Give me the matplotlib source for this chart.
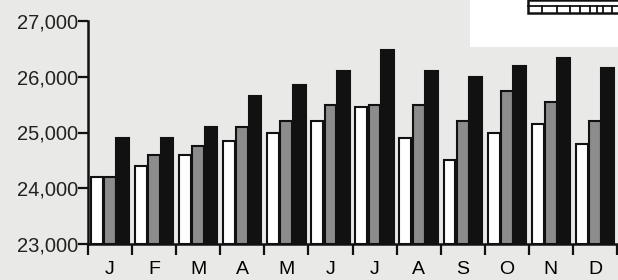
# monthly totals, three years side by side
import numpy as np
import matplotlib
matplotlib.use("Agg")
from matplotlib import pyplot as plt
from matplotlib.patches import Rectangle

months = ['J', 'F', 'M', 'A', 'M', 'J', 'J', 'A', 'S', 'O', 'N', 'D']
series1 = [24200, 24400, 24600, 24850, 25000, 25200, 25450, 24900, 24500, 25000, 25150, 24800]
series2 = [24200, 24600, 24750, 25100, 25200, 25500, 25500, 25500, 25200, 25750, 25550, 25200]
series3 = [24900, 24900, 25100, 25650, 25850, 26100, 26480, 26100, 26000, 26200, 26330, 26150]
yticks = [23000, 24000, 25000, 26000, 27000]

bg = '#e9e9e7'
plt.rcParams['font.family'] = ['Liberation Sans', 'DejaVu Sans']

fig = plt.figure(figsize=(6.18, 2.8), dpi=100)
fig.patch.set_facecolor(bg)
ax = fig.add_axes([88/618, 36/280, 529/618, 223/280])
ax.set_facecolor(bg)

x = np.arange(len(months))
w = 0.27
ax.bar(x - 0.30, [v - 23000 for v in series1], w, bottom=23000, color='white', edgecolor='#111111', linewidth=1.5)
ax.bar(x, [v - 23000 for v in series2], w, bottom=23000, color='#8c8c8c', edgecolor='#111111', linewidth=1.5)
ax.bar(x + 0.29, [v - 23000 for v in series3], w + 0.02, bottom=23000, color='#111111', edgecolor='#111111', linewidth=1.5)

ax.set_xlim(-0.5, 11.5)
ax.set_ylim(23000, 27000)
ax.set_yticks(yticks)
ax.set_yticklabels(['{:,}'.format(v) for v in yticks], fontsize=14.5)
ax.set_xticks(np.arange(len(months) + 1) - 0.5)
ax.set_xticklabels([])
ax.set_xticks(x, minor=True)
ax.set_xticklabels(months, minor=True, fontsize=14)
ax.tick_params(axis='x', which='major', length=8, width=1.6, color='#111111', direction='out')
ax.tick_params(axis='x', which='minor', length=0, pad=12)
ax.tick_params(axis='y', length=7, width=1.6, color='#111111', pad=0, labelcolor='#222222')

for s in ['top', 'right']:
    ax.spines[s].set_visible(False)
for s in ['left', 'bottom']:
    ax.spines[s].set_linewidth(1.8)
    ax.spines[s].set_color('#111111')

# white legend panel cut off at the top right
fig.patches.append(Rectangle((470/618, 233/280), 148/618, 47/280, transform=fig.transFigure,
                             facecolor='white', edgecolor='none', zorder=5))
fig.patches.append(Rectangle((528/618, 267/280), 92/618, 13/280, transform=fig.transFigure,
                             facecolor='white', edgecolor='#111111', linewidth=1.8, zorder=6))
for gx in [542, 557, 570, 580, 590, 597, 603, 612]:
    fig.add_artist(plt.Line2D([gx/618, gx/618], [267/280, 274/280], color='#111111', linewidth=1.3, zorder=7))
fig.add_artist(plt.Line2D([528/618, 1], [274/280, 274/280], color='#111111', linewidth=1.3, zorder=7))

plt.savefig('out.png', dpi=100, facecolor=bg)
